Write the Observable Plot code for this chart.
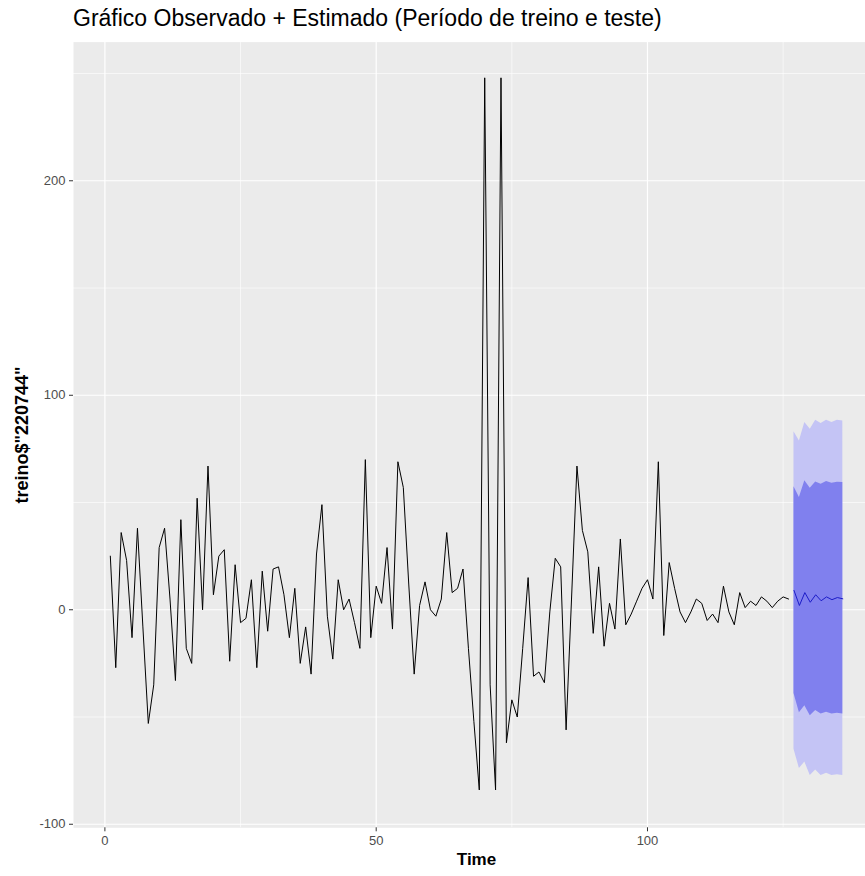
<!DOCTYPE html>
<html><head><meta charset="utf-8">
<script src="https://cdn.jsdelivr.net/npm/d3@7"></script>
<script src="https://cdn.jsdelivr.net/npm/@observablehq/plot@0.6"></script>
<style>
body{margin:0;background:#fff;font-family:"Liberation Sans",Arial,sans-serif;}
#title{height:40px;box-sizing:border-box;padding:7px 0 0 73px;font-size:23px;line-height:23px;color:#000;white-space:nowrap;}
#chart svg{display:block;}
</style></head><body>
<div id="title">Gráfico Observado + Estimado (Período de treino e teste)</div>
<div id="chart"></div>
<script>
// Observed series (treino$"220744"), time starts at 1
const startTime = 1;
const observed = [
  25, -27, 36, 23, -13, 38, -8, -53, -35, 29,
  38, 5, -33, 42, -18, -25, 52, 0, 67, 7,
  25, 28, -24, 21, -6, -4, 14, -27, 18, -10,
  19, 20, 7, -13, 10, -25, -8, -30, 26, 49,
  -3, -23, 14, 0, 5, -6, -18, 70, -13, 11,
  3, 29, -9, 69, 57, 12, -30, 2, 13, 0,
  -3, 5, 36, 8, 10, 19, -18, -52, -84, 248,
  -35, -84, 248, -62, -42, -50, -18, 15, -31, -29,
  -34, -1, 24, 20, -56, 5, 67, 37, 27, -11,
  20, -17, 3, -9, 33, -7, -2, 4, 10, 14,
  5, 69, -12, 22, 10, -1, -6, -1, 5, 3,
  -5, -2, -6, 11, -1, -7, 8, 1, 4, 2,
  6, 4, 1, 4, 6, 5
];
// Forecast (test period)
const fcTime = [127, 128, 129, 130, 131, 132, 133, 134, 135, 136];
const fcMean = [9, 2, 8, 3.5, 7, 4.2, 6, 4.7, 5.7, 5.1];
const fcLo80 = [-39, -48, -44.7, -49.4, -47, -48.6, -47.8, -48.6, -48.3, -48.6];
const fcHi80 = [57.3, 52.3, 60.1, 56.7, 59.6, 58.5, 59.8, 59, 59.5, 59.3];
const fcLo95 = [-65, -74, -71, -77.3, -74.7, -77.3, -76.2, -77.3, -76.9, -77.3];
const fcHi95 = [83, 78.7, 87.3, 84.2, 88.4, 86.8, 88.4, 87.3, 88.4, 88];
// Axis ticks
const xMajor = [0, 50, 100];
const xMinor = [25, 75, 125];
const yMajor = [-100, 0, 100, 200];
const yMinor = [-50, 50, 150, 250];
const xTitle = "Time";
const yTitle = 'treino$"220744"';

const obs = observed.map((v, i) => ({t: startTime + i, v}));
const fc = fcTime.map((t, i) => ({t, mean: fcMean[i], lo80: fcLo80[i], hi80: fcHi80[i], lo95: fcLo95[i], hi95: fcHi95[i]}));

const chart = Plot.plot({
  width: 865,
  height: 836,
  marginTop: 1.6,
  marginBottom: 48.7,
  marginLeft: 73,
  marginRight: 0,
  style: {fontFamily: "'Liberation Sans', Arial, sans-serif", background: "#fff", overflow: "visible"},
  x: {domain: [-5.787, 140.18]},
  y: {domain: [-101.65, 264.65]},
  marks: [
    Plot.frame({fill: "#EBEBEB", stroke: null}),
    Plot.ruleY(yMinor, {stroke: "#fff", strokeWidth: 0.6}),
    Plot.ruleX(xMinor, {stroke: "#fff", strokeWidth: 0.6}),
    Plot.ruleY(yMajor, {stroke: "#fff", strokeWidth: 1.2}),
    Plot.ruleX(xMajor, {stroke: "#fff", strokeWidth: 1.2}),
    Plot.areaY(fc, {x: "t", y1: "lo95", y2: "hi95", fill: "#C4C4F5"}),
    Plot.areaY(fc, {x: "t", y1: "lo80", y2: "hi80", fill: "#8080EE"}),
    Plot.lineY(obs, {x: "t", y: "v", stroke: "#000", strokeWidth: 1}),
    Plot.lineY(fc, {x: "t", y: "mean", stroke: "#1C1CC8", strokeWidth: 1}),
    Plot.axisY(yMajor, {anchor: "left", tickSize: 4, tickPadding: 4, fontSize: 13, stroke: "#333", fill: "#4D4D4D", label: null, tickFormat: d => String(d)}),
    Plot.axisX(xMajor, {anchor: "bottom", tickSize: 4, tickPadding: 4, fontSize: 13, stroke: "#333", fill: "#4D4D4D", label: null, tickFormat: d => String(d)}),
    Plot.text([xTitle], {frameAnchor: "bottom", textAnchor: "middle", dx: 7, dy: 37, fontSize: 17, fontWeight: "bold", fill: "#000"}),
    Plot.text([yTitle], {frameAnchor: "left", textAnchor: "middle", rotate: -90, dx: -51, fontSize: 18, fontWeight: "bold", fill: "#000"})
  ]
});
document.getElementById("chart").appendChild(chart);
</script>
</body></html>
